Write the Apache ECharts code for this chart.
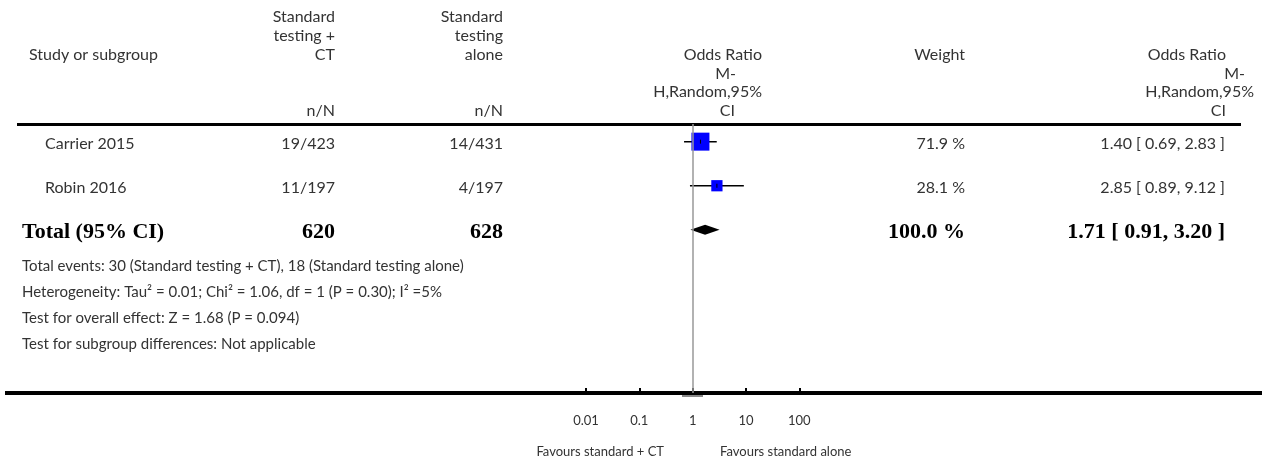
<!DOCTYPE html>
<html>
<head>
<meta charset="utf-8">
<script src="https://cdn.jsdelivr.net/npm/echarts@6/dist/echarts.min.js"></script>
<style>
  html, body { margin: 0; padding: 0; background: #fff; }
  #forest { width: 1268px; height: 464px; }
</style>
</head>
<body>
<div id="forest"></div>
<script>
// study rows
const studies = ['Carrier 2015', 'Robin 2016']
const ctEvents = ['19/423', '11/197']
const aloneEvents = ['14/431', '4/197']
const oddsRatio = [1.40, 2.85]
const ciLower = [0.69, 0.89]
const ciUpper = [2.83, 9.12]
const weights = [71.9, 28.1]

// pooled row
const totalLabel = 'Total (95% CI)'
const totalN = [620, 628]
const totalOR = [1.71, 0.91, 3.20]
const totalWeight = 100.0

const xTicks = [0.01, 0.1, 1, 10, 100]
const footnotes = [
  'Total events: 30 (Standard testing + CT), 18 (Standard testing alone)',
  'Heterogeneity: Tau² = 0.01; Chi² = 1.06, df = 1 (P = 0.30); I² =5%',
  'Test for overall effect: Z = 1.68 (P = 0.094)',
  'Test for subgroup differences: Not applicable'
]

const SANS = 'Lato'
const SERIF = '"Liberation Serif"'
const TXT = '#333'

const fmtCI = (v, l, u) => `${v.toFixed(2)} [ ${l.toFixed(2)}, ${u.toFixed(2)} ]`

const chart = echarts.init(document.getElementById('forest'))

function txt(x, y, text, align, extra) {
  return {
    type: 'text', x, y,
    style: Object.assign({ text, align, verticalAlign: 'middle', fill: TXT, font: `16px ${SANS}` }, extra || {})
  }
}

const headerText = [
  txt(29, 55, 'Study or subgroup', 'left'),
  txt(335, 17, 'Standard', 'right'),
  txt(335, 36, 'testing +', 'right'),
  txt(335, 55, 'CT', 'right'),
  txt(335, 111, 'n/N', 'right'),
  txt(503, 17, 'Standard', 'right'),
  txt(503, 36, 'testing', 'right'),
  txt(503, 55, 'alone', 'right'),
  txt(503, 111, 'n/N', 'right'),
  txt(762, 55, 'Odds Ratio', 'right'),
  txt(736, 74, 'M-', 'right'),
  txt(762, 92, 'H,Random,95%', 'right'),
  txt(735, 111, 'CI', 'right'),
  txt(965, 55, 'Weight', 'right'),
  txt(1226, 55, 'Odds Ratio', 'right'),
  txt(1245, 74, 'M-', 'right'),
  txt(1254, 92, 'H,Random,95%', 'right'),
  txt(1226, 111, 'CI', 'right')
]

const footText = footnotes.map((t, i) => txt(22, 266 + i * 26, t, 'left', { font: `15px ${SANS}` }))

chart.setOption({
  animation: false,
  grid: { left: 586, width: 213.3, top: 124, bottom: 71 },
  xAxis: {
    type: 'log',
    logBase: 10,
    min: 0.01,
    max: 100,
    axisLine: { show: false, onZero: false },
    axisTick: { show: true, inside: true, length: 5, lineStyle: { color: '#000', width: 2 } },
    minorTick: { show: false },
    splitLine: { show: false },
    axisLabel: {
      margin: 21,
      color: TXT,
      fontFamily: SANS,
      fontSize: 13,
      formatter: v => xTicks.find(t => Math.abs(t - v) < t * 1e-6) + ''
    }
  },
  yAxis: { type: 'value', inverse: true, min: -0.4, max: 5.7, show: false },
  graphic: [
    { type: 'rect', shape: { x: 17, y: 123, width: 1224, height: 3 }, style: { fill: '#000' } },
    { type: 'rect', shape: { x: 5, y: 391, width: 1257, height: 4 }, style: { fill: '#000' } },
    { type: 'rect', shape: { x: 682, y: 395, width: 21, height: 2 }, style: { fill: '#888' } },
    txt(664, 452, 'Favours standard + CT', 'right', { font: `13px ${SANS}` }),
    txt(720, 452, 'Favours standard alone', 'left', { font: `13px ${SANS}` })
  ].concat(headerText, footText),
  series: [
    {
      // reference line at OR = 1
      type: 'line',
      data: [],
      markLine: {
        silent: true,
        symbol: 'none',
        label: { show: false },
        lineStyle: { color: '#999', width: 1.5, type: 'solid' },
        data: [{ xAxis: 1 }]
      }
    },
    {
      type: 'custom',
      name: 'studies',
      data: studies.map((s, i) => [oddsRatio[i], ciLower[i], ciUpper[i], weights[i], i]),
      encode: { x: [0, 1, 2], y: 4 },
      renderItem(params, api) {
        const row = api.value(4)
        const p = api.coord([api.value(0), row])
        const lo = api.coord([api.value(1), row])
        const hi = api.coord([api.value(2), row])
        const s = Math.sqrt(api.value(3)) * 2.12
        return {
          type: 'group',
          children: [
            { type: 'line', shape: { x1: lo[0], y1: p[1], x2: hi[0], y2: p[1] }, style: { stroke: '#000', lineWidth: 1.5 } },
            { type: 'rect', shape: { x: p[0] - s / 2, y: p[1] - s / 2, width: s, height: s }, style: { fill: '#0000ff' } },
            { type: 'line', shape: { x1: p[0], y1: p[1] - 2, x2: p[0], y2: p[1] + 2 }, style: { stroke: '#000', lineWidth: 1 } }
          ]
        }
      }
    },
    {
      type: 'custom',
      name: 'total',
      data: [[totalOR[0], totalOR[1], totalOR[2], studies.length]],
      encode: { x: [0, 1, 2], y: 3 },
      renderItem(params, api) {
        const row = api.value(3)
        const p = api.coord([api.value(0), row])
        const lo = api.coord([api.value(1), row])
        const hi = api.coord([api.value(2), row])
        return {
          type: 'polygon',
          shape: { points: [[lo[0], p[1]], [p[0], p[1] - 5], [hi[0], p[1]], [p[0], p[1] + 5]] },
          style: { fill: '#000' }
        }
      }
    },
    {
      // table text, one row per study plus the total
      type: 'custom',
      name: 'table',
      data: studies.map((s, i) => [1, i]).concat([[1, studies.length]]),
      encode: { x: 0, y: 1 },
      renderItem(params, api) {
        const i = params.dataIndex
        const y = api.coord([1, api.value(1)])[1] + 2
        if (i < studies.length) {
          return {
            type: 'group',
            children: [
              txt(45, y, studies[i], 'left'),
              txt(335, y, ctEvents[i], 'right'),
              txt(503, y, aloneEvents[i], 'right'),
              txt(965, y, weights[i].toFixed(1) + ' %', 'right'),
              txt(1225, y, fmtCI(oddsRatio[i], ciLower[i], ciUpper[i]), 'right')
            ]
          }
        }
        const bold = { font: `bold 22px ${SERIF}`, fill: '#000' }
        return {
          type: 'group',
          children: [
            txt(22, y, totalLabel, 'left', bold),
            txt(335, y, totalN[0] + '', 'right', bold),
            txt(503, y, totalN[1] + '', 'right', bold),
            txt(965, y, totalWeight.toFixed(1) + ' %', 'right', bold),
            txt(1225, y, fmtCI(totalOR[0], totalOR[1], totalOR[2]), 'right', bold)
          ]
        }
      }
    }
  ]
})
</script>
</body>
</html>
